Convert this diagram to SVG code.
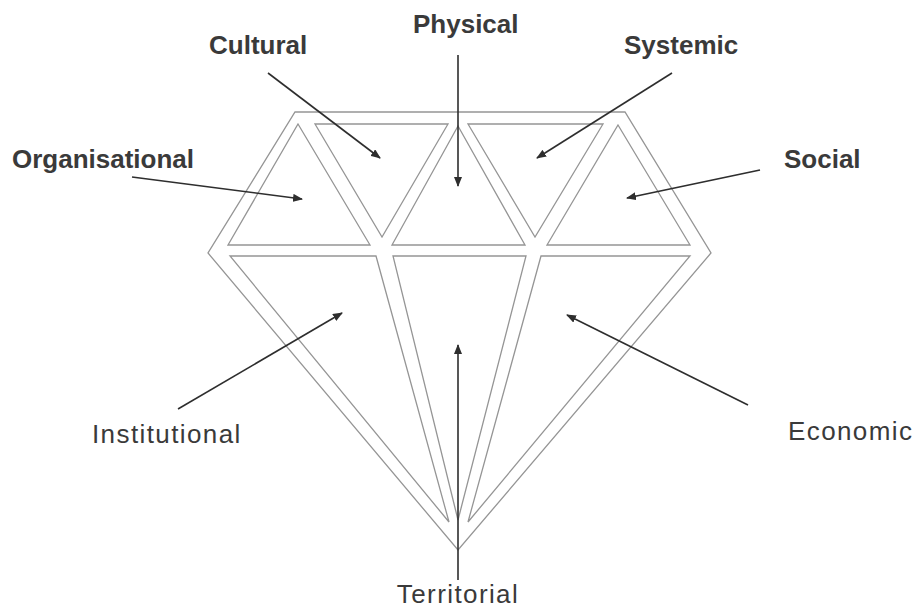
<svg xmlns="http://www.w3.org/2000/svg" width="920" height="612" viewBox="0 0 920 612">
  <style>
    .facet { fill: none; stroke: #959595; stroke-width: 1.3; stroke-linejoin: miter; }
    .lbl { font-family: "Liberation Sans", Arial, sans-serif; font-size: 26px; fill: #3a3a3a; }
    .b { font-weight: bold; }
    .r { font-size: 26px; letter-spacing: 1.4px; }
    .arrow { stroke: #2e2e2e; stroke-width: 1.6; fill: none; marker-end: url(#ah); }
  </style>
  <defs>
    <marker id="ah" markerWidth="10" markerHeight="8" refX="9" refY="4" orient="auto" markerUnits="userSpaceOnUse">
      <path d="M0,0 L10,4 L0,8 Z" fill="#2e2e2e"/>
    </marker>
  </defs>
  <rect width="920" height="612" fill="#ffffff"/>

  <g id="diamond">
    <polygon class="facet" points="295,112 625,112 711,253 458,550 208,253"/>
    <polygon class="facet" points="298,124 370,245 228,245"/>
    <polygon class="facet" points="315,124 448,124 382,237"/>
    <polygon class="facet" points="458,126 525,245 392,245"/>
    <polygon class="facet" points="468,124 603,124 535,237"/>
    <polygon class="facet" points="618,125 690,245 547,245"/>
    <polygon class="facet" points="230,256 376,256 449,522"/>
    <polygon class="facet" points="393,256 526,256 458,520"/>
    <polygon class="facet" points="541,256 690,256 468,522"/>
  </g>

  <g id="connectors">
    <line class="arrow" x1="268" y1="73" x2="380" y2="158"/>
    <line class="arrow" x1="458" y1="55" x2="458" y2="186"/>
    <line class="arrow" x1="672" y1="73" x2="537" y2="158"/>
    <line class="arrow" x1="132" y1="177" x2="302" y2="199"/>
    <line class="arrow" x1="760" y1="170" x2="627" y2="198"/>
    <line class="arrow" x1="178" y1="409" x2="342" y2="313"/>
    <line class="arrow" x1="748" y1="405" x2="567" y2="315"/>
    <line class="arrow" x1="458" y1="580" x2="458" y2="345"/>
  </g>

  <g id="cultural"><text class="lbl b" x="209" y="54">Cultural</text></g>
  <g id="physical"><text class="lbl b" x="413" y="33">Physical</text></g>
  <g id="systemic"><text class="lbl b" x="624" y="54">Systemic</text></g>
  <g id="organisational"><text class="lbl b" x="12" y="168">Organisational</text></g>
  <g id="social"><text class="lbl b" x="784" y="168">Social</text></g>
  <g id="institutional"><text class="lbl r" x="92" y="443">Institutional</text></g>
  <g id="economic"><text class="lbl r" x="788" y="440">Economic</text></g>
  <g id="territorial"><text class="lbl r" x="458" y="603" text-anchor="middle">Territorial</text></g>
</svg>
